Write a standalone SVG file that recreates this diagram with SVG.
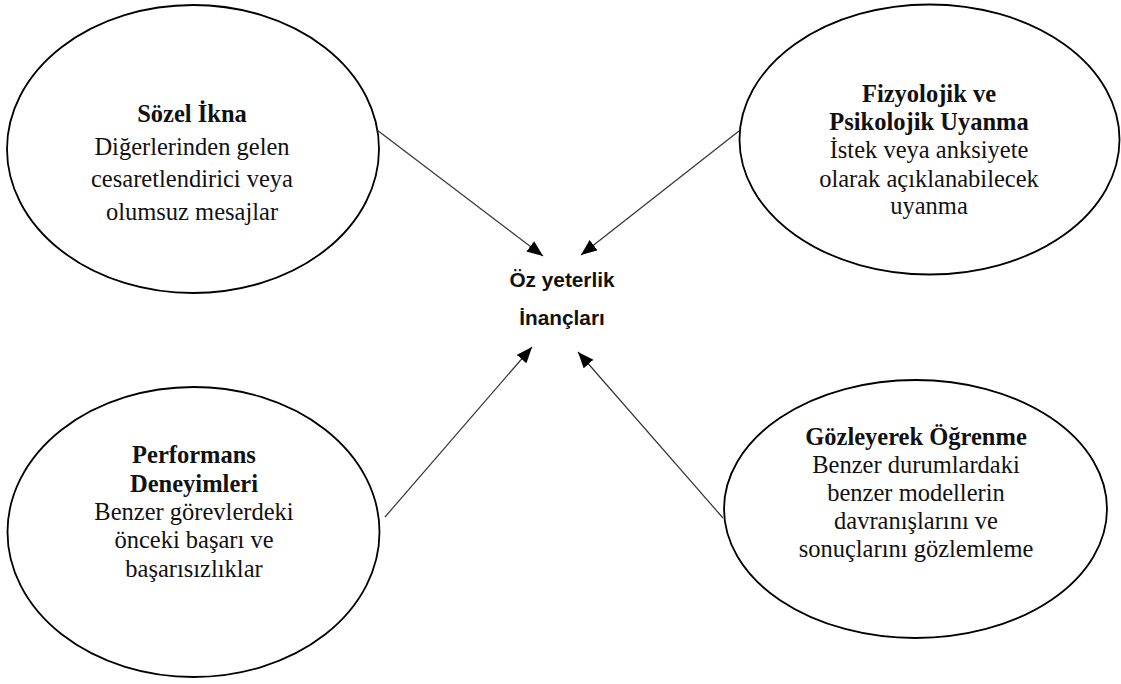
<svg xmlns="http://www.w3.org/2000/svg" width="1121" height="684" viewBox="0 0 1121 684">
<style>
.node ellipse{fill:#fff;stroke:#000;stroke-width:1.8}
.t{font-family:"Liberation Serif","Times New Roman",serif;font-size:24.5px;fill:#111;text-anchor:middle}
.b{font-weight:bold}
.c{font-family:"Liberation Sans",Arial,sans-serif;font-size:20.8px;font-weight:bold;fill:#111;text-anchor:middle}
.conn line{stroke:#333;stroke-width:1.2;marker-end:url(#ah)}
</style>
<defs>
<marker id="ah" markerUnits="userSpaceOnUse" markerWidth="17" markerHeight="14" refX="16" refY="6.5" orient="auto">
<path d="M0,0 L16,6.5 L0,13 z" fill="#000"/>
</marker>
</defs>
<rect width="1121" height="684" fill="#fff"/>
<g id="sozel-ikna" class="node">
<ellipse cx="193" cy="149" rx="186" ry="144"/>
<text class="t b" x="192" y="122">Sözel İkna</text>
<text class="t" x="192" y="155">Diğerlerinden gelen</text>
<text class="t" x="192" y="187">cesaretlendirici veya</text>
<text class="t" x="192" y="220">olumsuz mesajlar</text>
</g>
<g id="fizyolojik" class="node">
<ellipse cx="929.5" cy="139.5" rx="190" ry="135"/>
<text class="t b" x="929" y="102">Fizyolojik ve</text>
<text class="t b" x="929" y="130">Psikolojik Uyanma</text>
<text class="t" x="929" y="158">İstek veya anksiyete</text>
<text class="t" x="929" y="187">olarak açıklanabilecek</text>
<text class="t" x="929" y="214">uyanma</text>
</g>
<g id="performans" class="node">
<ellipse cx="193.5" cy="532" rx="186" ry="145"/>
<text class="t b" x="194" y="463">Performans</text>
<text class="t b" x="194" y="492">Deneyimleri</text>
<text class="t" x="194" y="520">Benzer görevlerdeki</text>
<text class="t" x="194" y="548">önceki başarı ve</text>
<text class="t" x="194" y="577">başarısızlıklar</text>
</g>
<g id="gozleyerek" class="node">
<ellipse cx="915.5" cy="509" rx="191.5" ry="129"/>
<text class="t b" x="916" y="445">Gözleyerek Öğrenme</text>
<text class="t" x="916" y="473">Benzer durumlardaki</text>
<text class="t" x="916" y="501">benzer modellerin</text>
<text class="t" x="916" y="529">davranışlarını ve</text>
<text class="t" x="916" y="557">sonuçlarını gözlemleme</text>
</g>
<g id="oz-yeterlik">
<text class="c" x="562" y="287">Öz yeterlik</text>
<text class="c" x="562" y="325">İnançları</text>
</g>
<g id="connectors" class="conn">
<line x1="377" y1="130" x2="543" y2="256"/>
<line x1="739" y1="131" x2="581" y2="255"/>
<line x1="385" y1="517" x2="532" y2="347"/>
<line x1="723" y1="518" x2="578" y2="352"/>
</g>
</svg>
